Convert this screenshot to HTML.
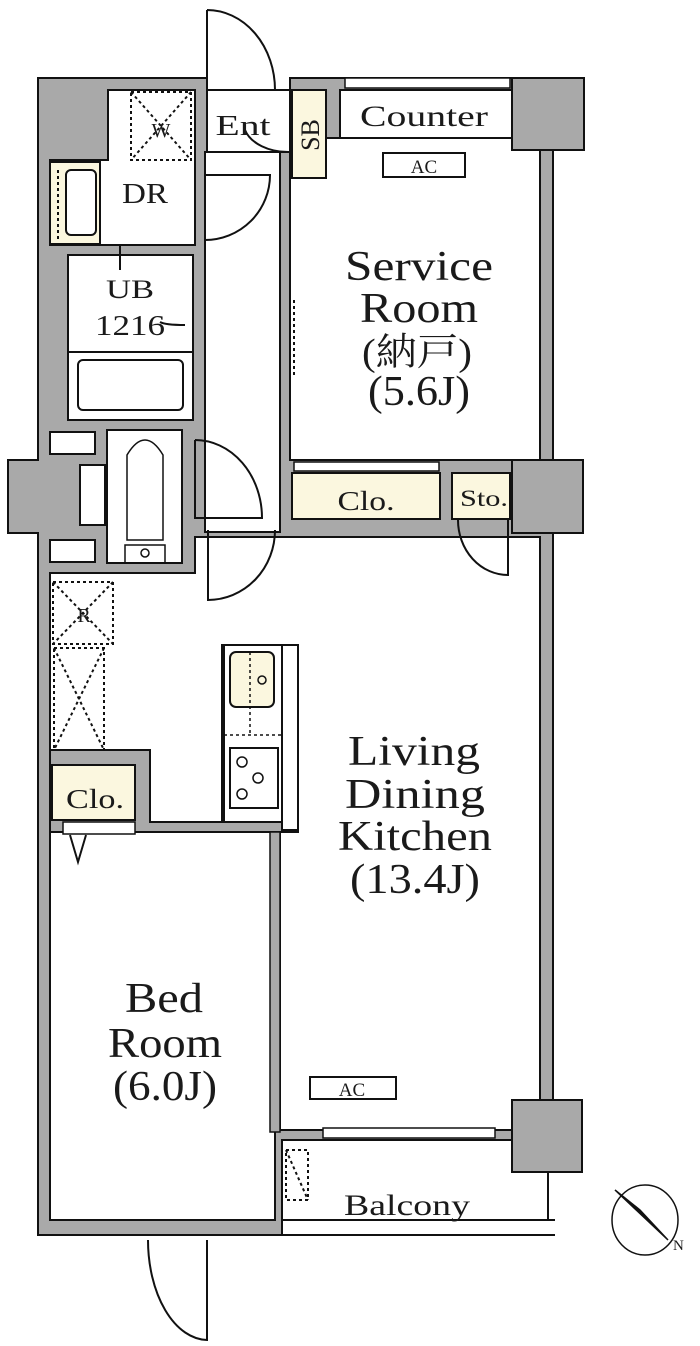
<!DOCTYPE html>
<html><head><meta charset="utf-8"><style>
html,body{margin:0;padding:0;background:#fff;}
svg{display:block;}
text{font-family:"Liberation Serif","Noto Serif CJK SC",serif;fill:#1a1a1a;}
</style></head><body>
<svg width="700" height="1346" viewBox="0 0 700 1346" xmlns="http://www.w3.org/2000/svg">
<g stroke="#111" stroke-width="2" fill="#a9a9a9">
<path d="M38 78 H207 V90 H290 V78 H584 V150 H553 V460 H583 V533 H553 V1100 H582 V1172 H512 V1140 H282 V1235 H38 V533 H8 V460 H38 Z"/>
</g>
<g stroke="#111" stroke-width="2" fill="#fff">
<rect x="207" y="90" width="83" height="62"/>
<rect x="290" y="138" width="250" height="322"/>
<rect x="205" y="152" width="75" height="380"/>
<path d="M108 90 H195 V245 H50 V160 H108 Z"/>
<rect x="68" y="255" width="125" height="165"/>
<rect x="107" y="430" width="75" height="133"/>
<path d="M50 573 H195 V537 H540 V1100 H512 V1130 H280 V832 H50 Z"/>
<rect x="50" y="832" width="225" height="388"/>
</g>
<g stroke="#111" stroke-width="2" fill="#a9a9a9">
<path d="M50 750 H150 V822 H222 V645 H298 V832 H50 Z"/>
<rect x="270" y="832" width="10" height="300" stroke-width="1.5"/>
<rect x="512" y="1100" width="70" height="72"/>
<rect x="512" y="78" width="72" height="72"/>
<rect x="512" y="460" width="71" height="73"/>
</g>
<g stroke="#111" stroke-width="2" fill="#fbf7df">
<rect x="292" y="90" width="34" height="88"/>
<rect x="292" y="473" width="148" height="46"/>
<rect x="452" y="473" width="58" height="46"/>
<rect x="52" y="765" width="83" height="55"/>
<rect x="50" y="162" width="50" height="82"/>
</g>
<g stroke="#111" stroke-width="2" fill="#fff">
<rect x="340" y="90" width="172" height="48"/>
<rect x="345" y="78" width="165" height="10" stroke-width="1.5"/>
<rect x="294" y="462" width="145" height="9" stroke-width="1.5"/>
<rect x="323" y="1128" width="172" height="10" stroke-width="1.5"/>
<rect x="63" y="822" width="72" height="12" stroke-width="1.5"/>
<rect x="66" y="170" width="30" height="65" rx="5"/>
<rect x="78" y="360" width="105" height="50" rx="5"/>
<rect x="50" y="432" width="45" height="22"/>
<rect x="80" y="465" width="25" height="60"/>
<rect x="50" y="540" width="45" height="22"/>
<rect x="224" y="645" width="58" height="177"/>
<rect x="282" y="645" width="16" height="185"/>
<rect x="230" y="652" width="44" height="55" rx="6" fill="#fbf7df"/>
<rect x="230" y="748" width="48" height="60"/>
<rect x="310" y="1077" width="86" height="22"/>
<rect x="383" y="153" width="82" height="24"/>
</g>
<line x1="68" y1="352" x2="193" y2="352" stroke="#111" stroke-width="2"/>
<circle cx="262" cy="680" r="4" fill="none" stroke="#111" stroke-width="1.5"/>
<line x1="224" y1="735" x2="282" y2="735" stroke="#111" stroke-width="1.5" stroke-dasharray="3,3"/>
<line x1="250" y1="652" x2="250" y2="735" stroke="#111" stroke-width="1.5" stroke-dasharray="3,3"/>
<g fill="none" stroke="#111" stroke-width="1.5">
<circle cx="242" cy="762" r="5"/><circle cx="258" cy="778" r="5"/><circle cx="242" cy="794" r="5"/>
<circle cx="145" cy="553" r="4"/>
<path d="M127 540 V455 Q145 425 163 455 V540 Z"/>
<rect x="125" y="545" width="40" height="18"/>
</g>
<g fill="none" stroke="#111" stroke-width="2" stroke-dasharray="3,3">
<rect x="131" y="92" width="60" height="68"/>
<path d="M131 92 L191 160 M191 92 L131 160"/>
<rect x="53" y="582" width="60" height="62"/>
<path d="M53 582 L113 644 M113 582 L53 644"/>
<rect x="54" y="648" width="50" height="102"/>
<path d="M54 648 L104 750 M104 648 L54 750"/>
<rect x="286" y="1150" width="22" height="50"/>
<path d="M286 1150 L308 1200"/>
<line x1="294" y1="300" x2="294" y2="375"/>
<line x1="58" y1="170" x2="58" y2="240"/>
</g>
<g fill="none" stroke="#111" stroke-width="2">
<path d="M207 10 V90 M207 10 A68 80 0 0 1 275 90"/>
<path d="M205 175 H270 A65 65 0 0 1 205 240"/>
<path d="M195 440 V518 H262 A67 78 0 0 0 195 440"/>
<path d="M208 530 V600 A67 70 0 0 0 275 530"/>
<path d="M508 520 V575 A50 55 0 0 1 458 520"/>
<path d="M207 1240 V1340 A60 100 0 0 1 148 1240"/>
<path d="M245 130 A45 30 0 0 0 290 152"/>
<path d="M120 245 V270 M185 325 Q165 325 160 322"/>
<line x1="282" y1="1220" x2="555" y2="1220"/>
<line x1="282" y1="1235" x2="555" y2="1235"/>
<line x1="548" y1="1172" x2="548" y2="1220"/>
<path d="M70 835 L78 862 L86 835"/>
</g>
<g fill="none" stroke="#111" stroke-width="1.5">
<ellipse cx="645" cy="1220" rx="33" ry="35"/>
<path d="M615 1190 L668 1240 L640 1210 Z" fill="#111"/>
</g>
<text x="673" y="1250" font-size="15" font-family="Liberation Sans,sans-serif">N</text>
<g text-anchor="middle" lengthAdjust="spacingAndGlyphs">
<text x="243" y="135" font-size="28" textLength="55" lengthAdjust="spacingAndGlyphs">Ent</text>
<text x="424" y="126" font-size="30" textLength="128" lengthAdjust="spacingAndGlyphs">Counter</text>
<text transform="translate(319,135) rotate(-90)" font-size="26">SB</text>
<text x="145" y="203" font-size="28" textLength="46" lengthAdjust="spacingAndGlyphs">DR</text>
<text x="161" y="137" font-size="20">W</text>
<text x="130" y="298" font-size="26" textLength="48" lengthAdjust="spacingAndGlyphs">UB</text>
<text x="130" y="335" font-size="28" textLength="70" lengthAdjust="spacingAndGlyphs">1216</text>
<text x="84" y="622" font-size="20">R</text>
<text x="419" y="280" font-size="42" textLength="148" lengthAdjust="spacingAndGlyphs">Service</text>
<text x="419" y="322" font-size="42" textLength="118" lengthAdjust="spacingAndGlyphs">Room</text>
<text x="417" y="365" font-size="38" textLength="110" lengthAdjust="spacingAndGlyphs">(納戸)</text>
<text x="419" y="405" font-size="42" textLength="102" lengthAdjust="spacingAndGlyphs">(5.6J)</text>
<text x="366" y="510" font-size="27" textLength="57" lengthAdjust="spacingAndGlyphs">Clo.</text>
<text x="484" y="506" font-size="23" textLength="48" lengthAdjust="spacingAndGlyphs">Sto.</text>
<text x="95" y="808" font-size="27" textLength="58" lengthAdjust="spacingAndGlyphs">Clo.</text>
<text x="414" y="765" font-size="42" textLength="132" lengthAdjust="spacingAndGlyphs">Living</text>
<text x="415" y="808" font-size="42" textLength="140" lengthAdjust="spacingAndGlyphs">Dining</text>
<text x="415" y="850" font-size="42" textLength="154" lengthAdjust="spacingAndGlyphs">Kitchen</text>
<text x="415" y="893" font-size="42" textLength="130" lengthAdjust="spacingAndGlyphs">(13.4J)</text>
<text x="164" y="1012" font-size="42" textLength="78" lengthAdjust="spacingAndGlyphs">Bed</text>
<text x="165" y="1057" font-size="42" textLength="114" lengthAdjust="spacingAndGlyphs">Room</text>
<text x="165" y="1100" font-size="42" textLength="104" lengthAdjust="spacingAndGlyphs">(6.0J)</text>
<text x="424" y="173" font-size="19">AC</text>
<text x="352" y="1096" font-size="19">AC</text>
<text x="407" y="1215" font-size="30" textLength="126" lengthAdjust="spacingAndGlyphs">Balcony</text>
</g>
</svg>
</body></html>
